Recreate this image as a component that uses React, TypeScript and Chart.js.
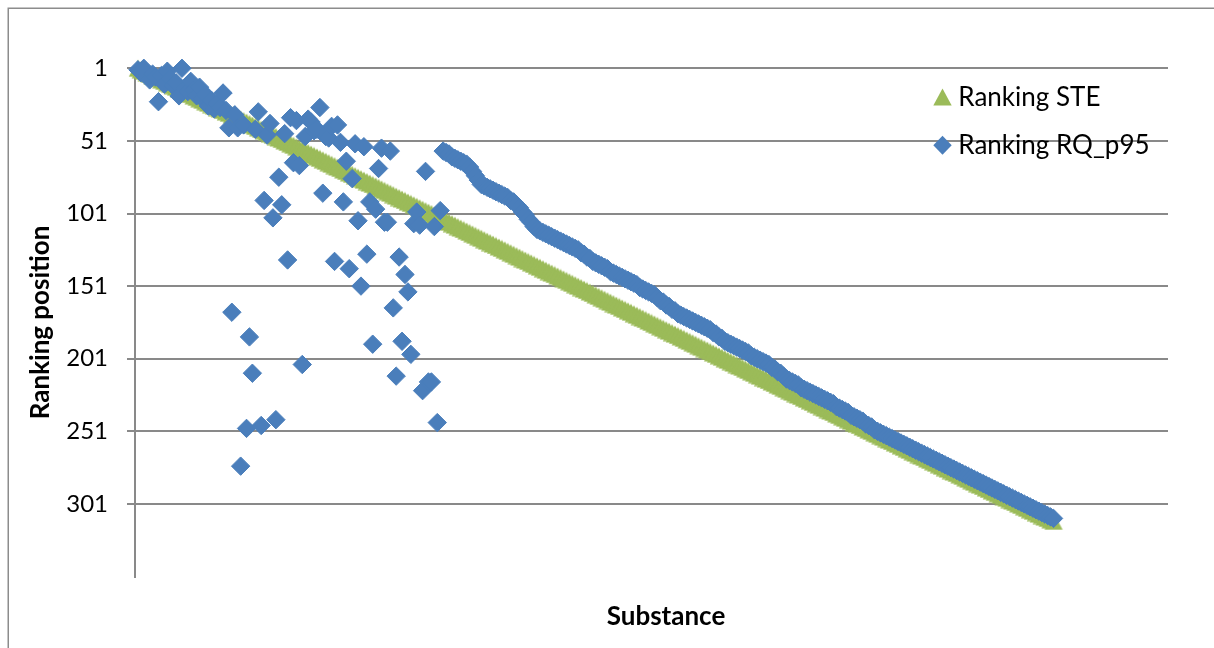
import React, { useEffect, useRef } from 'react';
import { Chart, registerables } from 'chart.js';

Chart.register(...registerables);

// ---------------- data ----------------
const substance = [
  1,2,3,4,5,6,7,8,9,10,11,12,13,14,15,16,17,18,19,20,
  21,22,23,24,25,26,27,28,29,30,31,32,33,34,35,36,37,38,39,40,
  41,42,43,44,45,46,47,48,49,50,51,52,53,54,55,56,57,58,59,60,
  61,62,63,64,65,66,67,68,69,70,71,72,73,74,75,76,77,78,79,80,
  81,82,83,84,85,86,87,88,89,90,91,92,93,94,95,96,97,98,99,100,
  101,102,103,104,105,106,107,108,109,110,111,112,113,114,115,116,117,118,119,120,
  121,122,123,124,125,126,127,128,129,130,131,132,133,134,135,136,137,138,139,140,
  141,142,143,144,145,146,147,148,149,150,151,152,153,154,155,156,157,158,159,160,
  161,162,163,164,165,166,167,168,169,170,171,172,173,174,175,176,177,178,179,180,
  181,182,183,184,185,186,187,188,189,190,191,192,193,194,195,196,197,198,199,200,
  201,202,203,204,205,206,207,208,209,210,211,212,213,214,215,216,217,218,219,220,
  221,222,223,224,225,226,227,228,229,230,231,232,233,234,235,236,237,238,239,240,
  241,242,243,244,245,246,247,248,249,250,251,252,253,254,255,256,257,258,259,260,
  261,262,263,264,265,266,267,268,269,270,271,272,273,274,275,276,277,278,279,280,
  281,282,283,284,285,286,287,288,289,290,291,292,293,294,295,296,297,298,299,300,
  301,302,303,304,305,306,307,308,309,310,311,312,313,
];

const rankingSTE = [
  1,2,3,4,5,6,7,8,9,10,11,12,13,14,15,16,17,18,19,20,
  21,22,23,24,25,26,27,28,29,30,31,32,33,34,35,36,37,38,39,40,
  41,42,43,44,45,46,47,48,49,50,51,52,53,54,55,56,57,58,59,60,
  61,62,63,64,65,66,67,68,69,70,71,72,73,74,75,76,77,78,79,80,
  81,82,83,84,85,86,87,88,89,90,91,92,93,94,95,96,97,98,99,100,
  101,102,103,104,105,106,107,108,109,110,111,112,113,114,115,116,117,118,119,120,
  121,122,123,124,125,126,127,128,129,130,131,132,133,134,135,136,137,138,139,140,
  141,142,143,144,145,146,147,148,149,150,151,152,153,154,155,156,157,158,159,160,
  161,162,163,164,165,166,167,168,169,170,171,172,173,174,175,176,177,178,179,180,
  181,182,183,184,185,186,187,188,189,190,191,192,193,194,195,196,197,198,199,200,
  201,202,203,204,205,206,207,208,209,210,211,212,213,214,215,216,217,218,219,220,
  221,222,223,224,225,226,227,228,229,230,231,232,233,234,235,236,237,238,239,240,
  241,242,243,244,245,246,247,248,249,250,251,252,253,254,255,256,257,258,259,260,
  261,262,263,264,265,266,267,268,269,270,271,272,273,274,275,276,277,278,279,280,
  281,282,283,284,285,286,287,288,289,290,291,292,293,294,295,296,297,298,299,300,
  301,302,303,304,305,306,307,308,309,310,311,312,313,
];

const rankingRQ = [
  2,4,1,6,9,5,7,24,6,12,
  3,8,13,11,20,1,15,17,10,16,
  20,14,22,19,27,23,29,25,28,18,
  30,42,169,33,42,275,40,249,186,211,
  43,31,247,92,47,39,104,243,76,95,
  46,133,35,66,37,68,205,48,36,38,
  44,43,28,87,48,49,41,134,40,52,
  93,65,139,77,53,106,151,55,129,93,
  191,98,70,56,107,107,58,166,213,131,
  189,143,155,198,108,100,109,223,72,217,
  217,110,245,99,58,59,60,62,63,64,
  65,66,67,69,72,75,78,81,82,83,
  84,85,86,87,88,89,90,92,93,95,
  97,100,102,105,107,110,112,113,114,115,
  116,117,118,119,120,121,122,123,124,125,
  126,128,129,131,132,134,135,136,137,138,
  139,141,142,143,144,145,146,147,148,149,
  150,152,153,154,155,156,157,159,161,162,
  164,165,167,168,170,171,172,173,174,175,
  176,177,178,179,180,181,183,184,186,187,
  189,190,191,192,193,194,195,196,197,199,
  200,201,202,203,204,205,207,208,210,211,
  213,215,216,217,218,219,221,222,223,224,
  225,226,227,228,229,230,231,232,234,235,
  236,237,238,240,241,242,243,244,246,247,
  248,250,251,252,253,254,255,256,257,258,
  259,260,261,262,263,264,265,266,267,268,
  269,270,271,272,273,274,275,276,277,278,
  279,280,281,282,283,284,285,286,287,288,
  289,290,291,292,293,294,295,296,297,298,
  299,300,301,302,303,304,305,306,307,308,
  309,310,311,
];

const yTickLabels = [1, 51, 101, 151, 201, 251, 301];
const seriesNames = ['Ranking STE', 'Ranking RQ_p95'];
const xTitle = 'Substance';
const yTitle = 'Ranking position';

// ---------------- styles ----------------
const GREEN = '#9BBB59';
const BLUE = '#4A7EBB';
const GRID = '#898989';
const FONT = 'Lato';

function makeTriangle(): HTMLCanvasElement {
  const c = document.createElement('canvas');
  c.width = 20;
  c.height = 18;
  const g = c.getContext('2d')!;
  g.fillStyle = GREEN;
  g.beginPath();
  g.moveTo(10, 0.5);
  g.lineTo(19.2, 17.5);
  g.lineTo(0.8, 17.5);
  g.closePath();
  g.fill();
  return c;
}

const frameBorder = {
  id: 'frameBorder',
  beforeDraw(chart: any) {
    const ctx = chart.ctx;
    ctx.save();
    ctx.strokeStyle = '#8c8c8c';
    ctx.lineWidth = 1.5;
    ctx.beginPath();
    ctx.moveTo(8.25, chart.height);
    ctx.lineTo(8.25, 8.25);
    ctx.lineTo(chart.width, 8.25);
    ctx.stroke();
    ctx.restore();
  },
};

const xTitlePlugin = {
  id: 'xTitlePlugin',
  afterDraw(chart: any) {
    const ctx = chart.ctx;
    const { left, right } = chart.chartArea;
    ctx.save();
    ctx.fillStyle = '#000';
    ctx.font = `bold 26px ${FONT}`;
    ctx.textAlign = 'center';
    ctx.textBaseline = 'middle';
    ctx.fillText(xTitle, (left + right) / 2 + 14.5, chart.height - 31);
    ctx.restore();
  },
};

const overlayLegend = {
  id: 'overlayLegend',
  afterDatasetsDraw(chart: any) {
    const ctx = chart.ctx;
    const { right, top } = chart.chartArea;
    const mx = right - 225.5;
    const tx = right - 209.7;
    const b1 = top + 37.2;
    const b2 = top + 86;
    ctx.save();
    ctx.fillStyle = GREEN;
    ctx.beginPath();
    ctx.moveTo(mx, b1 - 17);
    ctx.lineTo(mx + 9.2, b1);
    ctx.lineTo(mx - 9.2, b1);
    ctx.closePath();
    ctx.fill();
    const dy = b2 - 9;
    ctx.fillStyle = BLUE;
    ctx.beginPath();
    ctx.moveTo(mx, dy - 9.5);
    ctx.lineTo(mx + 9.2, dy);
    ctx.lineTo(mx, dy + 9.5);
    ctx.lineTo(mx - 9.2, dy);
    ctx.closePath();
    ctx.fill();
    ctx.fillStyle = '#000';
    ctx.font = `26px ${FONT}`;
    ctx.textBaseline = 'alphabetic';
    ctx.textAlign = 'left';
    ctx.fillText(seriesNames[0], tx, b1);
    ctx.fillText(seriesNames[1], tx, b2);
    ctx.restore();
  },
};

export default function App() {
  const canvasRef = useRef<HTMLCanvasElement | null>(null);

  useEffect(() => {
    if (!canvasRef.current) return;
    const tri = makeTriangle();
    const steData = substance.map((s, i) => ({ x: s, y: rankingSTE[i] }));
    const rqData = substance.map((s, i) => ({ x: s, y: rankingRQ[i] }));
    const chart = new Chart(canvasRef.current, {
      type: 'scatter',
      data: {
        datasets: [
          {
            label: seriesNames[0],
            data: steData,
            pointStyle: tri,
            pointRadius: 9.5,
            backgroundColor: GREEN,
            borderColor: GREEN,
            borderWidth: 0,
            order: 2,
            clip: false,
          },
          {
            label: seriesNames[1],
            data: rqData,
            pointStyle: 'rectRot',
            pointRadius: 9.2,
            backgroundColor: BLUE,
            borderColor: BLUE,
            borderWidth: 1,
            order: 1,
            clip: false,
          },
        ],
      },
      options: {
        responsive: false,
        animation: false,
        events: [],
        layout: { padding: { top: 68.3, right: 46, bottom: 0, left: 0 } },
        font: { family: FONT },
        plugins: {
          legend: { display: false },
          tooltip: { enabled: false },
        },
        scales: {
          x: {
            type: 'linear',
            min: 0,
            max: 352,
            afterFit: (s: any) => { s.height = 71.5; },
            ticks: { display: false },
            grid: { display: false },
            border: { display: false },
            title: { display: false, text: xTitle },
          },
          y: {
            type: 'linear',
            reverse: true,
            min: 1,
            max: 351,
            afterFit: (s: any) => { s.width = 135; },
            ticks: {
              stepSize: 50,
              padding: 19,
              color: '#000',
              font: { family: FONT, size: 24 },
              callback: (v: any) => (yTickLabels.includes(Number(v)) ? String(v) : null),
            },
            grid: { color: GRID, lineWidth: 2, tickLength: 8, drawTicks: true },
            border: { display: true, color: GRID, width: 2 },
            title: {
              display: true,
              text: yTitle,
              color: '#000',
              font: { family: FONT, size: 26, weight: 'bold' },
              padding: { top: 25.4, bottom: 0 },
            },
          },
        },
      },
      plugins: [frameBorder, overlayLegend, xTitlePlugin],
    } as any);
    return () => chart.destroy();
  }, []);

  return (
    <div style={{ position: 'fixed', left: 0, top: 0, width: 1214, height: 648, background: '#fff' }}>
      <canvas ref={canvasRef} width={1214} height={648} style={{ display: 'block' }} />
    </div>
  );
}
